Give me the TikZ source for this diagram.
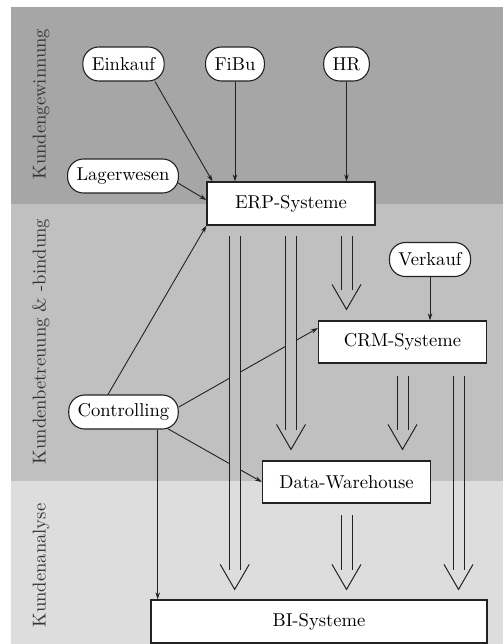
\documentclass[tikz,border=0pt]{standalone}
\usepackage{fontspec}
\setmainfont{lmroman10-regular.otf}
\usetikzlibrary{calc,arrows.meta}
\definecolor{bandA}{HTML}{A6A6A6}
\definecolor{bandB}{HTML}{C0C0C0}
\definecolor{bandC}{HTML}{DDDDDD}
\definecolor{ink}{HTML}{222222}
\definecolor{labelgray}{HTML}{333333}
\begin{document}
\begin{tikzpicture}[x=1pt,y=-1pt,font=\fontsize{18.6}{22}\selectfont,
  pill/.style={draw=ink, fill=white, line width=1.1pt, rounded corners=16pt, minimum height=34pt, inner xsep=9pt, inner ysep=0pt},
  sysbox/.style={draw=ink, fill=white, line width=1.2pt, minimum width=168pt, minimum height=43pt},
  conn/.style={draw=ink, line width=0.9pt, -{Stealth[length=7pt,width=4.5pt]}},
  shaft/.style={draw=ink, line width=1pt, double distance=10pt},
  vhead/.style={draw=ink, line width=1pt, line join=miter},
  bandlabel/.style={rotate=90, text=labelgray}]
\useasboundingbox (0,0) rectangle (503,644);
\fill[white] (0,0) rectangle (503,644);
\fill[bandA] (11,7) rectangle (503,204);
\fill[bandB] (11,204) rectangle (503,481);
\fill[bandC] (11,481) rectangle (503,644);

\node[bandlabel] (lab1) at (41,104) {Kundengewinnung};
\node[bandlabel] (lab2) at (41,341.5) {Kundenbetreuung \& -bindung};
\node[bandlabel] (lab3) at (41,565.5) {Kundenanalyse};

\node[pill] (einkauf) at (123.5,64) {Einkauf};
\node[pill] (fibu) at (235,64) {FiBu};
\node[pill] (hr) at (346.5,64) {HR};
\node[pill] (lager) at (123,176) {Lagerwesen};
\node[sysbox] (erp) at (291,203.5) {ERP-Systeme};
\node[pill] (verkauf) at (430,259.5) {Verkauf};
\node[sysbox, minimum height=42pt] (crm) at (402.5,342) {CRM-Systeme};
\node[pill] (ctrl) at (123.5,412) {Controlling};
\node[sysbox, minimum height=42pt] (dw) at (346.5,482) {Data-Warehouse};
\node[sysbox, minimum width=336pt] (bi) at (319,621.5) {BI-Systeme};

\draw[conn] ($(einkauf.south)+(31.5,0)$) -- ($(erp.north)+(-78.5,0)$);
\draw[conn] (fibu.south) -- (fibu.south |- erp.north);
\draw[conn] (hr.south) -- (hr.south |- erp.north);
\draw[conn] ($(lager.east)+(-1,7)$) -- ($(erp.west)+(0,-3.5)$);
\draw[conn] ($(ctrl.north)+(-15.5,0)$) -- (erp.south west);
\draw[conn] ($(ctrl.east)+(0,-5)$) -- ($(crm.west)+(0,-14)$);
\draw[conn] ($(ctrl.south)+(44,-1)$) -- (dw.west);
\coordinate (cb) at ($(ctrl.south)+(34.2,0)$);
\draw[conn] (cb) -- (cb |- bi.north);
\draw[conn] (verkauf.south) -- (verkauf.south |- crm.north);

\coordinate (s1) at ($(erp.south)+(-56.3,10)$);
\coordinate (s2) at ($(erp.south)+(0,10)$);
\coordinate (s3) at ($(erp.south)+(55.5,10)$);
\coordinate (s4) at ($(crm.south)+(0,12)$);
\coordinate (s5) at ($(crm.south)+(56,12)$);
\coordinate (s6) at ($(dw.south)+(0,11)$);
\coordinate (t1) at ($(s1 |- bi.north)+(0,-10)$);
\coordinate (t2) at ($(s2 |- dw.north)+(0,-11)$);
\coordinate (t3) at ($(s3 |- crm.north)+(0,-11)$);
\coordinate (t4) at ($(s4 |- dw.north)+(0,-11)$);
\coordinate (t5) at ($(s5 |- bi.north)+(0,-10)$);
\coordinate (t6) at ($(s6 |- bi.north)+(0,-10)$);

\newcommand\drawshafts{%
  \foreach \i in {1,...,6}{\draw[shaft] (s\i) -- ($(t\i)+(0,-19)$);}%
}
\begin{scope}
  \clip (11,204) rectangle (503,481);
  \tikzset{shaft/.append style={double=bandB}}
  \drawshafts
\end{scope}
\begin{scope}
  \clip (11,481) rectangle (503,644);
  \tikzset{shaft/.append style={double=bandC}}
  \drawshafts
\end{scope}
\foreach \i in {1,...,6}{\draw[vhead] ($(t\i)+(-14.5,-25)$) -- (t\i) -- ($(t\i)+(14.5,-25)$);}
\end{tikzpicture}
\end{document}
